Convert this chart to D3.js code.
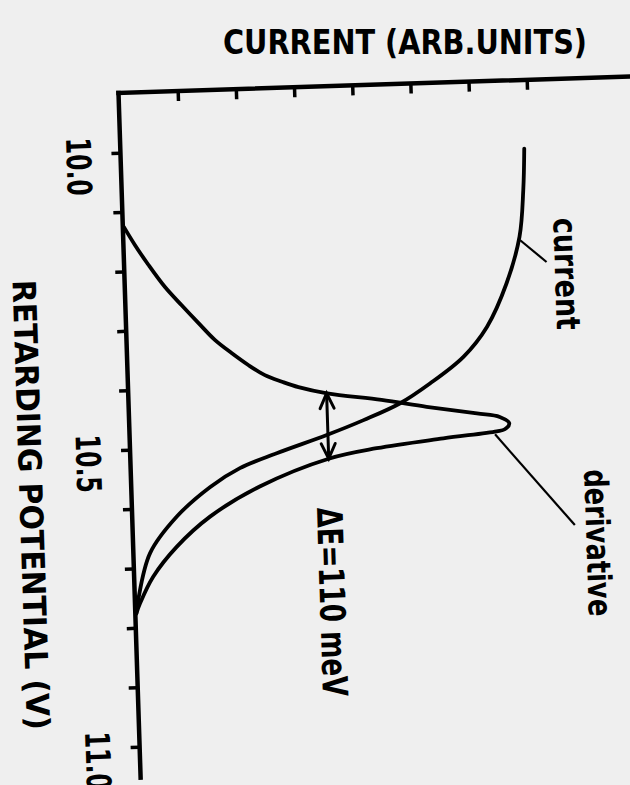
<!DOCTYPE html>
<html>
<head>
<meta charset="utf-8">
<script src="https://cdn.jsdelivr.net/npm/d3@7"></script>
<style>
  html, body { margin: 0; padding: 0; background: #efefef; }
  svg { display: block; }
  text { font-family: "DejaVu Sans Condensed", "DejaVu Sans", sans-serif; font-weight: bold; fill: #000; }
</style>
</head>
<body>
<svg id="chart" width="630" height="785"></svg>
<script>
// Retarding-potential curve and its derivative (current in arbitrary units)
const currentPotential = [10.015, 10.085, 10.163, 10.241, 10.313, 10.362, 10.405, 10.437, 10.463, 10.486, 10.514, 10.537, 10.567, 10.615, 10.675, 10.753, 10.776];
const currentValues    = [6.92,   6.88,   6.79,   6.54,   6.18,   5.76,   5.17,   4.64,   4.01,   3.37,   2.50,   1.86,   1.34,   0.75,   0.27,   0.04,   0.00];

const derivativePotential = [10.125, 10.156, 10.190, 10.228, 10.260, 10.291, 10.320, 10.343, 10.364, 10.382, 10.394, 10.404, 10.416, 10.430, 10.444, 10.458, 10.465, 10.476, 10.486, 10.489, 10.498, 10.511, 10.526, 10.569, 10.617, 10.666, 10.715, 10.759, 10.776];
const derivativeValues    = [0.00,   0.18,   0.40,   0.67,   0.95,   1.23,   1.50,   1.78,   2.06,   2.34,   2.63,   2.91,   3.40,   4.33,   5.10,   5.96,   6.35,   6.51,   6.43,   6.29,   5.37,   4.22,   3.39,   2.19,   1.32,   0.73,   0.31,   0.07,   0.00];

// Axis ticks
const potentialTicks = [10.0, 10.1, 10.2, 10.3, 10.4, 10.5, 10.6, 10.7, 10.8, 10.9, 11.0];
const potentialLabelValues = [10.0, 10.5, 11.0];
const potentialLabels = ["10.0", "10.5", "11.0"];
const currentTicks = [1, 2, 3, 4, 5, 6, 7];

// Width of the derivative peak (V) and where the arrow is drawn
const deltaE = 0.110;
const deltaEStart = 10.416;
const deltaECurrent = 3.39;

// Curve labels: text, anchor point (current, potential), leader line ends
const curveLabels = [
  { text: "current",    c: 7.38, v: 10.228, len: 112, leader: [[6.80, 10.169], [7.24, 10.207]] },
  { text: "derivative", c: 7.77, v: 10.682, len: 147, leader: [[6.26, 10.494], [7.58, 10.651]] }
];

const svg = d3.select("#chart");

// Axis title along the top
svg.append("text")
  .attr("x", 223).attr("y", 54)
  .attr("font-size", 34)
  .attr("textLength", 364).attr("lengthAdjust", "spacingAndGlyphs")
  .text("CURRENT (ARB.UNITS)");

// The plot is drawn sideways: potential runs downwards, current to the right
const g = svg.append("g").attr("transform", "translate(118.5,93) rotate(-1.85)");

const yV = d3.scaleLinear().domain([10, 11]).range([59.7, 654]);
const xC = d3.scaleLinear().domain([0, 7]).range([1, 1 + 7 * 58.2]);

// Spines
g.append("line").attr("x1", 0).attr("y1", 0).attr("x2", 0).attr("y2", 685)
  .attr("stroke", "#000").attr("stroke-width", 4.5).attr("stroke-linecap", "square");
g.append("line").attr("x1", 0).attr("y1", 0).attr("x2", 540).attr("y2", 0)
  .attr("stroke", "#000").attr("stroke-width", 4.5).attr("stroke-linecap", "square");

// Potential ticks (outward)
const leftAxis = g.append("g")
  .call(d3.axisLeft(yV).tickValues(potentialTicks).tickSize(9).tickFormat(""));
leftAxis.select(".domain").remove();
leftAxis.selectAll(".tick line").attr("stroke", "#000").attr("stroke-width", 3.5);

// Current ticks (inward)
const topAxis = g.append("g")
  .call(d3.axisBottom(xC).tickValues(currentTicks).tickSizeInner(10).tickSizeOuter(0).tickFormat(""));
topAxis.select(".domain").remove();
topAxis.selectAll(".tick line").attr("stroke", "#000").attr("stroke-width", 3.5);

// Potential tick labels
g.selectAll(".vlabel")
  .data(potentialLabelValues)
  .join("text")
  .attr("class", "vlabel")
  .attr("transform", d => `translate(-54,${yV(d) + 12.7}) rotate(90)`)
  .attr("text-anchor", "middle")
  .attr("font-size", 34)
  .attr("textLength", 58).attr("lengthAdjust", "spacingAndGlyphs")
  .text((d, i) => potentialLabels[i]);

// Potential axis title
g.append("text")
  .attr("transform", `translate(-112,${(yV(10) + yV(11)) / 2 + 52}) rotate(90)`)
  .attr("text-anchor", "middle")
  .attr("font-size", 32)
  .attr("textLength", 450).attr("lengthAdjust", "spacingAndGlyphs")
  .text("RETARDING POTENTIAL (V)");

// Curves
const line = d3.line()
  .x(d => xC(d[0]))
  .y(d => yV(d[1]))
  .curve(d3.curveCatmullRom.alpha(0.5));

g.append("path")
  .attr("d", line(currentValues.map((c, i) => [c, currentPotential[i]])))
  .attr("fill", "none").attr("stroke", "#000").attr("stroke-width", 3.8)
  .attr("stroke-linecap", "round").attr("stroke-linejoin", "round");

g.append("path")
  .attr("d", line(derivativeValues.map((c, i) => [c, derivativePotential[i]])))
  .attr("fill", "none").attr("stroke", "#000").attr("stroke-width", 3.8)
  .attr("stroke-linecap", "round").attr("stroke-linejoin", "round");

// Double-headed arrow marking the peak width
const ax = xC(deltaECurrent);
const ay1 = yV(deltaEStart);
const ay2 = yV(deltaEStart + deltaE);
const arrow = g.append("g").attr("fill", "none").attr("stroke", "#000")
  .attr("stroke-width", 3).attr("stroke-linejoin", "miter").attr("stroke-linecap", "round");
arrow.append("line").attr("x1", ax).attr("y1", ay1).attr("x2", ax).attr("y2", ay2);
arrow.append("polyline").attr("points", `${ax - 7},${ay1 + 15} ${ax},${ay1} ${ax + 7},${ay1 + 15}`);
arrow.append("polyline").attr("points", `${ax - 7},${ay2 - 15} ${ax},${ay2} ${ax + 7},${ay2 - 15}`);

g.append("text")
  .attr("transform", `translate(${xC(3.16)},${yV(10.767)}) rotate(90)`)
  .attr("text-anchor", "middle")
  .attr("font-size", 35)
  .attr("textLength", 189).attr("lengthAdjust", "spacingAndGlyphs")
  .text("ΔE=110 meV");

// Curve labels with leader lines
curveLabels.forEach(l => {
  g.append("line")
    .attr("x1", xC(l.leader[0][0])).attr("y1", yV(l.leader[0][1]))
    .attr("x2", xC(l.leader[1][0])).attr("y2", yV(l.leader[1][1]))
    .attr("stroke", "#000").attr("stroke-width", 2.2);
  g.append("text")
    .attr("transform", `translate(${xC(l.c)},${yV(l.v)}) rotate(90)`)
    .attr("text-anchor", "middle")
    .attr("font-size", 33)
    .attr("textLength", l.len).attr("lengthAdjust", "spacingAndGlyphs")
    .text(l.text);
});
</script>
</body>
</html>
